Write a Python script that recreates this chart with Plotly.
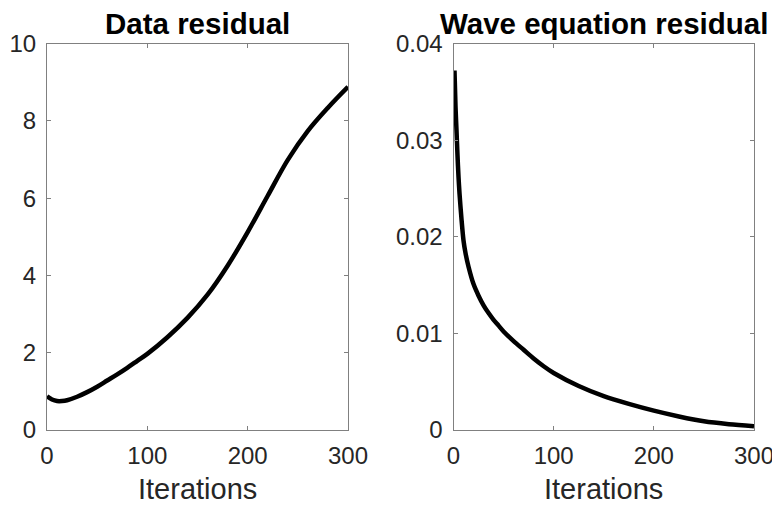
import plotly.graph_objects as go

# Data
iter_data = [0, 5, 10, 15, 20, 30, 40, 50, 60, 70, 80, 90, 100, 120, 140, 160, 180, 200,
             220, 240, 260, 280, 300]
data_residual = [0.87, 0.79, 0.75, 0.75, 0.77, 0.86, 0.98, 1.12, 1.28, 1.44, 1.61, 1.79, 1.97,
                 2.40, 2.90, 3.50, 4.25, 5.12, 6.06, 6.99, 7.74, 8.34, 8.88]

iter_wave = [1, 2, 3, 4, 5, 6, 8, 10, 12, 15, 20, 25, 30, 35, 40, 45, 50, 60, 70, 80, 90, 100,
             125, 150, 175, 200, 225, 250, 275, 300]
wave_residual = [0.0372, 0.0335, 0.0310, 0.0284, 0.0262, 0.0245, 0.0218, 0.0196, 0.0183,
                 0.0169, 0.0151, 0.0139, 0.0129, 0.0121, 0.0114, 0.0108, 0.0102, 0.0092,
                 0.0083, 0.0074, 0.0066, 0.0059, 0.00455, 0.0035, 0.0027, 0.0020, 0.0014,
                 0.0009, 0.0006, 0.0004]

x_ticks = [0, 100, 200, 300]
titles = ["Data residual", "Wave equation residual"]
x_label = "Iterations"

# page body has an 8px margin; figure is sized to fit inside the 780x511 window
OFF = 8
W, H = 772, 503
FONT = "Liberation Sans, Arial, Helvetica, sans-serif"
TICKCOL = "#262626"
AXCOL = "#808080"

def px(xs):
    return (xs - OFF) / W

def py(ys):
    return 1 - (ys - OFF) / H

fig = go.Figure()
fig.add_trace(go.Scatter(x=iter_data, y=data_residual, mode="lines",
                         line=dict(color="black", width=4.5, shape="spline", smoothing=1.0),
                         xaxis="x", yaxis="y", showlegend=False, hoverinfo="skip"))
fig.add_trace(go.Scatter(x=iter_wave, y=wave_residual, mode="lines",
                         line=dict(color="black", width=4.5, shape="spline", smoothing=0.8),
                         xaxis="x2", yaxis="y2", showlegend=False, hoverinfo="skip"))

dom_left = [px(47), px(348)]
dom_right = [px(453.5), px(754)]
dom_y = [py(430), py(43.5)]

def xaxis(dom, anchor):
    return dict(domain=dom, anchor=anchor, range=[0, 300], tickvals=x_ticks,
                ticks="inside", ticklen=4, tickcolor=AXCOL, tickwidth=1,
                showline=True, linecolor=AXCOL, linewidth=1, mirror="ticks",
                showgrid=False, zeroline=False, automargin=False,
                tickfont=dict(family=FONT, size=24, color=TICKCOL),
                ticklabelstandoff=4)

def yaxis(rng, dtick, anchor):
    return dict(domain=dom_y, anchor=anchor, range=rng, dtick=dtick, tick0=0,
                ticks="inside", ticklen=4, tickcolor=AXCOL, tickwidth=1,
                showline=True, linecolor=AXCOL, linewidth=1, mirror="ticks",
                showgrid=False, zeroline=False, automargin=False,
                tickfont=dict(family=FONT, size=24, color=TICKCOL),
                ticklabelstandoff=5)

annotations = []
for dom, t in zip([dom_left, dom_right], titles):
    cx = (dom[0] + dom[1]) / 2
    annotations.append(dict(text="<b>%s</b>" % t, x=cx, y=py(23.5), xref="paper", yref="paper",
                            xanchor="center", yanchor="middle", showarrow=False,
                            font=dict(family=FONT, size=29.5, color="black")))
    annotations.append(dict(text=x_label, x=cx, y=py(489), xref="paper", yref="paper",
                            xanchor="center", yanchor="middle", showarrow=False,
                            font=dict(family=FONT, size=29, color=TICKCOL)))

fig.update_layout(
    width=W, height=H, margin=dict(l=0, r=0, t=0, b=0, autoexpand=False),
    paper_bgcolor="white", plot_bgcolor="white",
    xaxis=xaxis(dom_left, "y"), yaxis=yaxis([0, 10], 2, "x"),
    xaxis2=xaxis(dom_right, "y2"), yaxis2=yaxis([0, 0.04], 0.01, "x2"),
    annotations=annotations,
)

fig.write_html("out.html")
